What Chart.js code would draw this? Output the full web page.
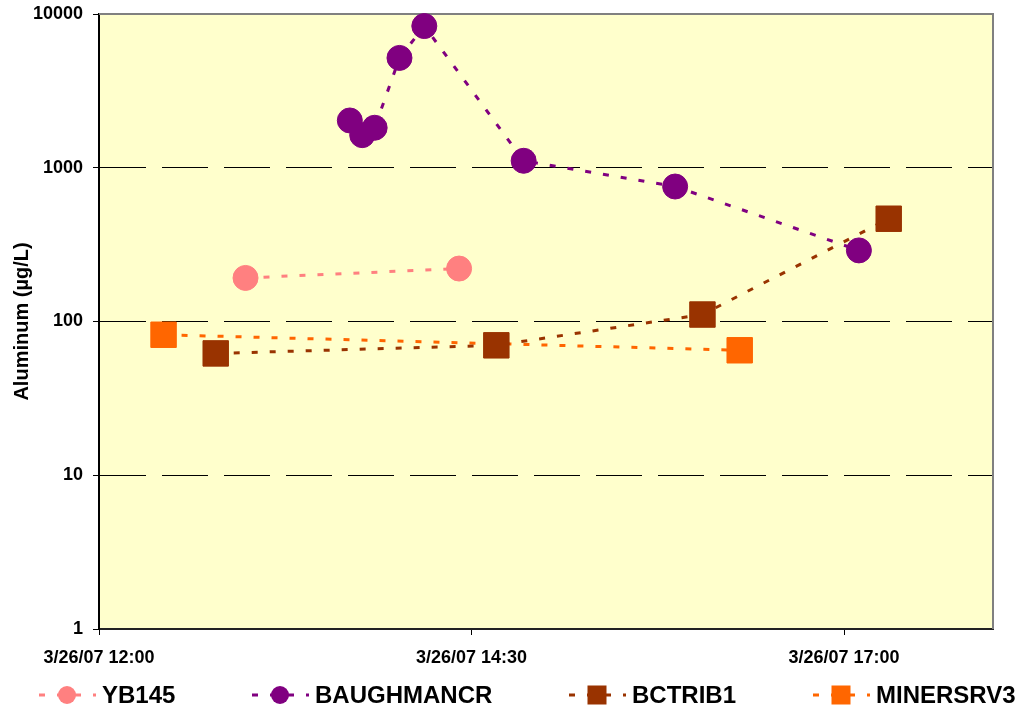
<!DOCTYPE html>
<html>
<head>
<meta charset="utf-8">
<script src="https://cdn.jsdelivr.net/npm/chart.js@4/dist/chart.umd.min.js"></script>
<style>
  html, body { margin: 0; padding: 0; background: #fff; }
  #wrap { width: 1024px; height: 711px; position: relative; }
</style>
</head>
<body>
<div id="wrap"><canvas id="alChart"></canvas></div>
<script>
// minutos desde 3/26/07 12:00
const ybTimes = [59, 145];
const ybValues = [192, 221];

const baughTimes = [101, 106, 111, 121, 131, 171, 232, 306];
const baughValues = [2030, 1630, 1820, 5180, 8350, 1110, 755, 290];

const bctribTimes = [47, 160, 243, 318];
const bctribValues = [62, 70, 111, 466];

const minersTimes = [26, 258];
const minersValues = [82, 65];

const seriesNames = ['YB145', 'BAUGHMANCR', 'BCTRIB1', 'MINERSRV3'];
const xTickMinutes = [0, 150, 300];
const yTickValues = [1, 10, 100, 1000, 10000];

const FONT = "Arial, 'Liberation Sans', sans-serif";

function toPoints(times, values) {
  return times.map((t, i) => ({ x: t, y: values[i] }));
}

function fmtTime(min) {
  const h = 12 + Math.floor(min / 60);
  const m = min % 60;
  return '3/26/07 ' + h + ':' + String(m).padStart(2, '0');
}

// fundo amarelo e moldura cinza da área de plotagem
const plotFrame = {
  id: 'plotFrame',
  beforeDraw(chart) {
    const { ctx, chartArea: a } = chart;
    ctx.save();
    ctx.fillStyle = '#FFFFCC';
    ctx.fillRect(a.left, a.top, a.right - a.left, a.bottom - a.top);
    ctx.restore();
  },
  beforeDatasetsDraw(chart) {
    const { ctx, chartArea: a } = chart;
    ctx.save();
    ctx.strokeStyle = '#808080';
    ctx.lineWidth = 2;
    ctx.beginPath();
    ctx.moveTo(a.left, a.top);
    ctx.lineTo(a.right, a.top);
    ctx.lineTo(a.right, a.bottom);
    ctx.stroke();
    ctx.restore();
  }
};

// legenda desenhada à mão: linha tracejada + marcador + texto
const bottomLegend = {
  id: 'bottomLegend',
  afterDraw(chart) {
    const { ctx } = chart;
    const centers = [67, 280, 597, 841];
    const y = 695;
    ctx.save();
    chart.data.datasets.forEach((ds, i) => {
      const cx = centers[i];
      ctx.strokeStyle = ds.borderColor;
      ctx.lineWidth = 3;
      ctx.setLineDash([6, 12]);
      ctx.beginPath();
      ctx.moveTo(cx - 28, y);
      ctx.lineTo(cx + 29, y);
      ctx.stroke();
      ctx.setLineDash([]);
      ctx.fillStyle = ds.backgroundColor;
      if (ds.pointStyle === 'rect') {
        ctx.fillRect(cx - 9.5, y - 9.5, 19, 19);
      } else {
        ctx.beginPath();
        ctx.arc(cx, y, 9, 0, Math.PI * 2);
        ctx.fill();
      }
      ctx.fillStyle = '#000';
      ctx.font = 'bold 24px ' + FONT;
      ctx.textBaseline = 'middle';
      ctx.textAlign = 'left';
      ctx.fillText(ds.label, cx + 35, y + 1);
    });
    ctx.restore();
  }
};

function makeSet(label, times, values, color, style, radius) {
  return {
    label: label,
    data: toPoints(times, values),
    borderColor: color,
    backgroundColor: color,
    pointBackgroundColor: color,
    pointBorderColor: color,
    pointBorderWidth: 1,
    pointStyle: style,
    pointRadius: radius,
    pointHoverRadius: radius,
    borderWidth: 3,
    borderDash: [6, 12],
    tension: 0,
    fill: false,
    clip: false
  };
}

new Chart(document.getElementById('alChart').getContext('2d'), {
  type: 'line',
  data: {
    datasets: [
      makeSet(seriesNames[0], ybTimes, ybValues, '#FF8080', 'circle', 12.5),
      makeSet(seriesNames[1], baughTimes, baughValues, '#800080', 'circle', 12.5),
      makeSet(seriesNames[2], bctribTimes, bctribValues, '#993300', 'rect', 18),
      makeSet(seriesNames[3], minersTimes, minersValues, '#FF6600', 'rect', 18)
    ]
  },
  options: {
    responsive: true,
    maintainAspectRatio: false,
    animation: false,
    layout: { autoPadding: false, padding: { top: 14, right: 31, left: 0, bottom: 0 } },
    plugins: {
      legend: { display: false },
      tooltip: { enabled: false }
    },
    scales: {
      x: {
        type: 'linear',
        min: 0,
        max: 360,
        afterBuildTicks: s => { s.ticks = xTickMinutes.map(v => ({ value: v })); },
        afterFit: s => { s.height = 82; s.paddingRight = 0; },
        grid: { drawOnChartArea: false, drawTicks: true, tickLength: 6, tickColor: '#000', tickWidth: 1 },
        border: { color: '#222', width: 2 },
        ticks: {
          color: '#000',
          font: { family: FONT, size: 18, weight: 'bold' },
          padding: 12,
          maxRotation: 0,
          autoSkip: false,
          callback: v => fmtTime(v)
        }
      },
      y: {
        type: 'logarithmic',
        min: 1,
        max: 10000,
        afterBuildTicks: s => { s.ticks = yTickValues.map(v => ({ value: v })); },
        afterFit: s => { s.width = 99; s.paddingTop = 0; s.paddingBottom = 0; },
        grid: {
          color: c => (c.tick && (c.tick.value === 10000 || c.tick.value === 1)) ? 'rgba(0,0,0,0)' : '#000',
          lineWidth: 1,
          tickLength: 6,
          tickColor: '#000',
          tickBorderDash: [],
          tickWidth: 1
        },
        border: { color: '#000', width: 2, dash: [46, 16] },
        ticks: {
          color: '#000',
          font: { family: FONT, size: 18, weight: 'bold' },
          padding: 10,
          autoSkip: false,
          callback: v => String(v)
        },
        title: {
          display: true,
          text: 'Aluminum (µg/L)',
          color: '#000',
          font: { family: FONT, size: 20, weight: 'bold' },
          padding: { top: 10, bottom: 0 }
        }
      }
    }
  },
  plugins: [plotFrame, bottomLegend]
});
</script>
</body>
</html>
